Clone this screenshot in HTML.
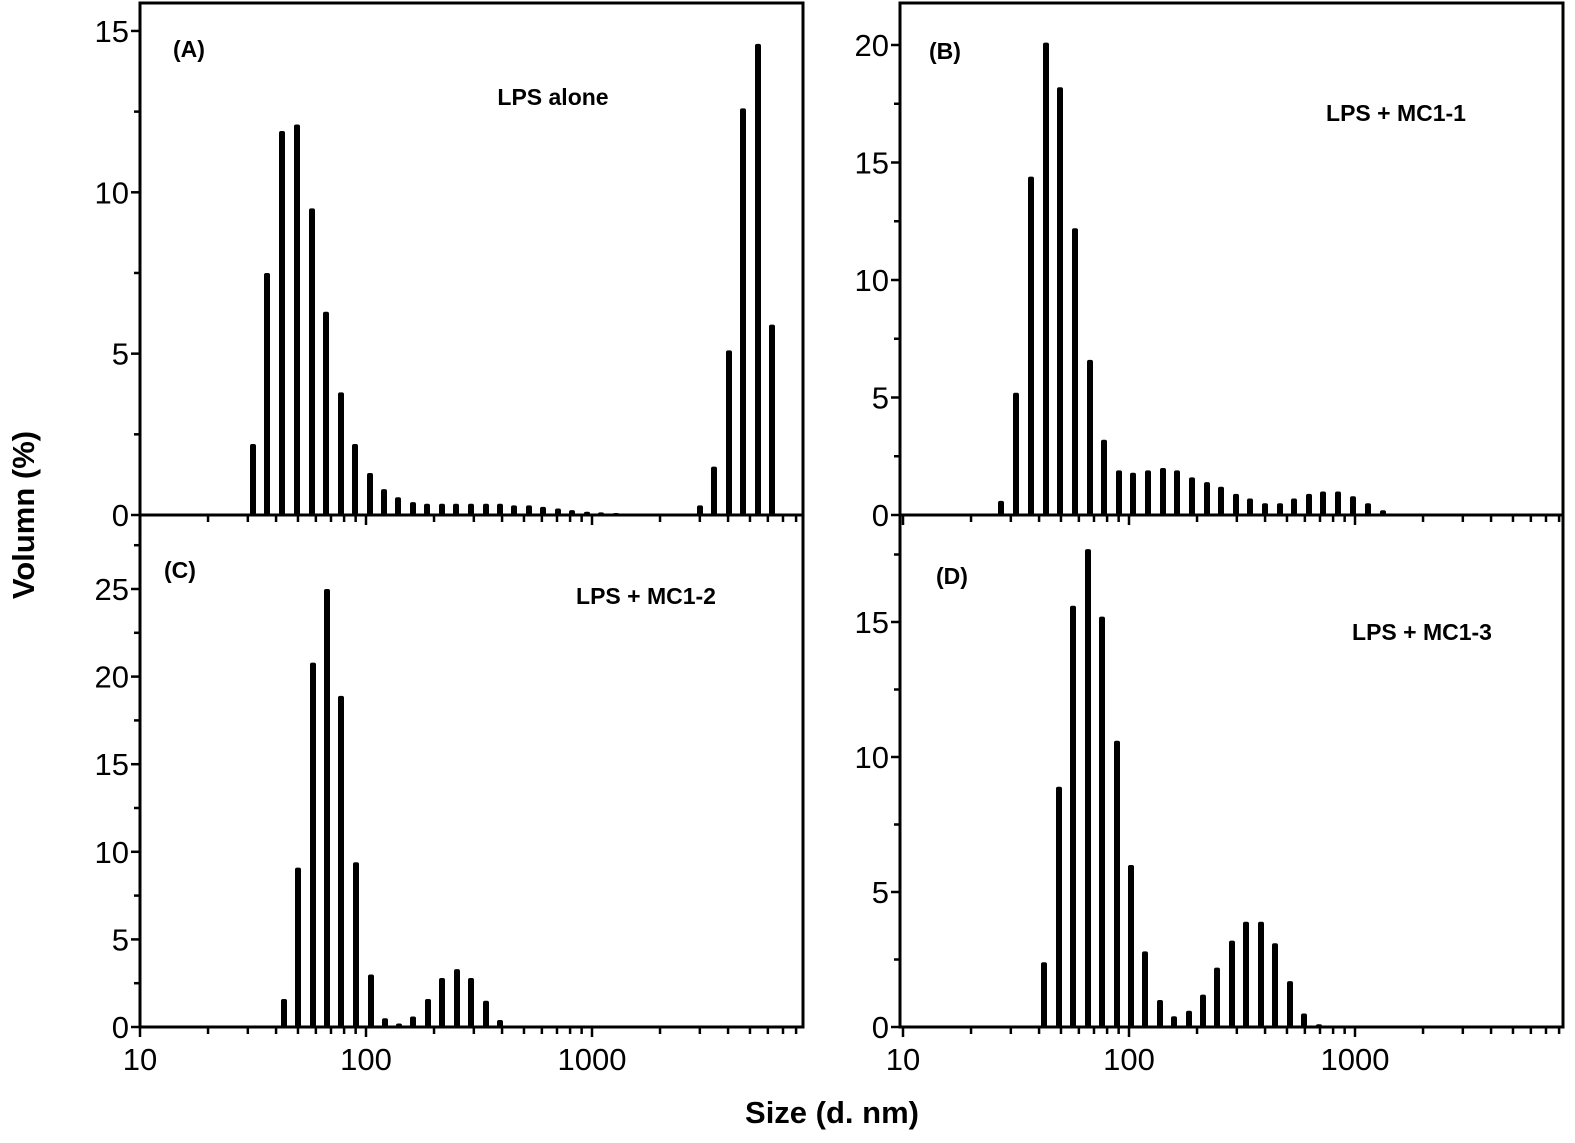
<!DOCTYPE html>
<html><head><meta charset="utf-8"><style>
html,body{margin:0;padding:0;background:#fff;}
svg{display:block;font-family:"Liberation Sans",Arial,sans-serif;}
.t{font-size:31px;fill:#000;}
.b{font-size:23px;font-weight:bold;fill:#000;}
</style></head><body>
<svg id="s" width="1575" height="1143" viewBox="0 0 1575 1143" xmlns="http://www.w3.org/2000/svg">
<g id="g"></g>
<text class="b" x="173" y="57">(A)</text>
<text class="b" x="553" y="105" text-anchor="middle">LPS alone</text>
<text class="b" x="929" y="59">(B)</text>
<text class="b" x="1396" y="121" text-anchor="middle">LPS + MC1-1</text>
<text class="b" x="164" y="578">(C)</text>
<text class="b" x="646" y="604" text-anchor="middle">LPS + MC1-2</text>
<text class="b" x="936" y="584">(D)</text>
<text class="b" x="1422" y="640" text-anchor="middle">LPS + MC1-3</text>
<text x="832" y="1123" text-anchor="middle" style="font-size:31px;font-weight:bold">Size (d. nm)</text>
<text transform="translate(34,515) rotate(-90)" text-anchor="middle" style="font-size:31px;font-weight:bold">Volumn (%)</text>
</svg>
<script>
var g=document.getElementById('g'),h='';
function L(x1,y1,x2,y2,w){h+='<line x1="'+x1+'" y1="'+y1+'" x2="'+x2+'" y2="'+y2+'" stroke="#000" stroke-width="'+(w||3)+'"/>';}
function T(x,y,s,a){h+='<text class="t" x="'+x+'" y="'+y+'" text-anchor="'+(a||'end')+'">'+s+'</text>';}
function P(o){
 var x0=o.x0,x1=o.x1,top=o.top,bot=o.bot,ps=o.ps;
 h+='<rect x="'+x0+'" y="'+top+'" width="'+(x1-x0)+'" height="'+(bot-top)+'" fill="none" stroke="#000" stroke-width="3"/>';
 for(var v=0;v*ps<=bot-top+1;v+=o.step/2){var y=bot-v*ps;if(y<top-1)break;var maj=Math.abs(v/o.step-Math.round(v/o.step))<1e-6;
  L(x0-(maj?9:6),y,x0,y,2.5);if(maj)T(x0-11,y+11,v);}
 var d=226;
 for(var k=1;k<=4;k++)for(var m=1;m<10;m++){var x=o.xa+(k-1)*d+Math.log10(m)*d;if(x>x1)continue;if(k==1&&m==1)x=o.xa;
  L(x,bot,x,bot+(m==1?10:7),2.5);}
 if(o.xl){T(o.xa,bot+43,'10','middle');T(o.xa+d,bot+43,'100','middle');T(o.xa+2*d,bot+43,'1000','middle');}
 o.b.forEach(function(p){var hh=p[1]*ps;if(hh<2)hh=2;h+='<rect x="'+(p[0]-3)+'" y="'+(bot-hh)+'" width="6" height="'+hh+'" rx="2" fill="#000"/>';});
}
P({x0:140,x1:803,top:3,bot:515,ps:32.27,step:5,xa:140,xl:false,b:[[253,2.2],[267,7.5],[282,11.9],[297,12.1],[312,9.5],[326,6.3],[341,3.8],[355,2.2],[370,1.3],[384,0.8],[398,0.55],[413,0.4],[427,0.35],[442,0.35],[456,0.35],[471,0.35],[486,0.35],[500,0.35],[514,0.3],[529,0.3],[543,0.25],[558,0.2],[572,0.15],[587,0.1],[601,0.08],[616,0.05],[700,0.3],[714,1.5],[729,5.1],[743,12.6],[758,14.6],[772,5.9]]});
P({x0:900,x1:1563,top:3,bot:515,ps:23.5,step:5,xa:903,xl:false,b:[[1001,0.6],[1016,5.2],[1031,14.4],[1046,20.1],[1060,18.2],[1075,12.2],[1090,6.6],[1104,3.2],[1119,1.9],[1133,1.8],[1148,1.9],[1163,2.0],[1177,1.9],[1192,1.6],[1207,1.4],[1221,1.2],[1236,0.9],[1250,0.7],[1265,0.5],[1280,0.5],[1294,0.7],[1309,0.9],[1323,1.0],[1338,1.0],[1353,0.8],[1368,0.5],[1383,0.2]]});
P({x0:140,x1:803,top:515,bot:1027,ps:17.52,step:5,xa:140,xl:true,b:[[284,1.6],[298,9.1],[313,20.8],[327,25.0],[341,18.9],[356,9.4],[371,3.0],[385,0.5],[399,0.2],[413,0.6],[428,1.6],[442,2.8],[457,3.3],[471,2.8],[486,1.5],[500,0.4]]});
P({x0:900,x1:1563,top:515,bot:1027,ps:27,step:5,xa:903,xl:true,b:[[1044,2.4],[1059,8.9],[1073,15.6],[1088,17.7],[1102,15.2],[1117,10.6],[1131,6.0],[1145,2.8],[1160,1.0],[1174,0.4],[1189,0.6],[1203,1.2],[1217,2.2],[1232,3.2],[1246,3.9],[1261,3.9],[1275,3.1],[1290,1.7],[1304,0.5],[1319,0.1]]});
g.innerHTML=h;
</script>
</body></html>
